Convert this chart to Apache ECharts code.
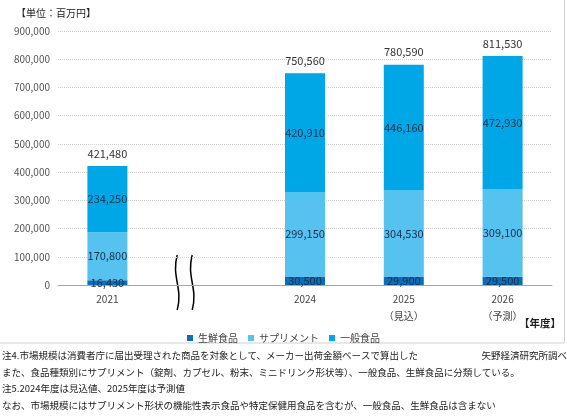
<!DOCTYPE html>
<html>
<head>
<meta charset="utf-8">
<script src="https://cdn.jsdelivr.net/npm/echarts@6/dist/echarts.min.js"></script>
<style>
  html, body {margin: 0; padding: 0; background: #fff;}
  #chart {width: 567px; height: 418px;}
</style>
</head>
<body>
<div id="chart"></div>
<script>
// 年度（2022-2023 は省略、空のカテゴリで波線を置く）
const categories = ['2021', '', '2024', '2025\n（見込）', '2026\n（予測）'];
const seriesNames = ['生鮮食品', 'サプリメント', '一般食品'];
const fresh = [16430, '-', 30500, 29900, 29500];
const supplement = [170800, '-', 299150, 304530, 309100];
const general = [234250, '-', 420910, 446160, 472930];
const totals = [421480, '-', 750560, 780590, 811530];
const colors = ['#0a6fb8', '#55c2f0', '#00a7e6'];

const notes = [
    '注4.市場規模は消費者庁に届出受理された商品を対象として、メーカー出荷金額ベースで算出した',
    'また、食品種類別にサプリメント（錠剤、カプセル、粉末、ミニドリンク形状等）、一般食品、生鮮食品に分類している。',
    '注5.2024年度は見込値、2025年度は予測値',
    'なお、市場規模にはサプリメント形状の機能性表示食品や特定保健用食品を含むが、一般食品、生鮮食品は含まない'
];

const font = '"Noto Sans CJK JP", "Noto Sans", sans-serif';
const chart = echarts.init(document.getElementById('chart'));

const fmt = v => Number(v).toLocaleString('en-US');

const segLabel = {
    show: true,
    position: 'inside',
    color: '#1b2f4a',
    fontSize: 11,
    fontFamily: font,
    formatter: p => fmt(p.value)
};

const dataSeries = [fresh, supplement, general].map((d, i) => ({
    name: seriesNames[i],
    type: 'bar',
    stack: 'total',
    barWidth: 40,
    data: d,
    itemStyle: {color: colors[i]},
    label: segLabel
}));

// 合計ラベル（透明な棒で上に表示）
dataSeries.push({
    name: 'total',
    type: 'bar',
    barWidth: 40,
    barGap: '-100%',
    data: totals,
    itemStyle: {color: 'transparent'},
    silent: true,
    z: 1,
    label: {
        show: true,
        position: 'top',
        distance: 7,
        color: '#333',
        fontSize: 11,
        fontFamily: font,
        formatter: p => fmt(p.value)
    }
});

const noteTexts = notes.map((t, i) => ({
    type: 'text',
    left: 2,
    top: 351 + i * 16.5,
    style: {text: t, fontSize: 9.5, fill: '#222', fontFamily: font}
}));

const option = {
    animation: false,
    textStyle: {fontFamily: font},
    grid: {left: 58, right: 15, top: 31, bottom: 133},
    legend: {
        data: seriesNames,
        top: 328,
        left: 'center',
        itemWidth: 6,
        itemHeight: 6,
        itemGap: 10,
        icon: 'rect',
        textStyle: {fontSize: 10, color: '#444', fontFamily: font}
    },
    xAxis: {
        type: 'category',
        data: categories,
        axisTick: {show: false},
        axisLine: {lineStyle: {color: '#a6a6a6'}},
        axisLabel: {color: '#444', fontSize: 10, lineHeight: 17, margin: 6, fontFamily: font}
    },
    yAxis: {
        type: 'value',
        min: 0,
        max: 900000,
        interval: 100000,
        axisLine: {show: false},
        axisTick: {show: false},
        splitLine: {lineStyle: {color: '#d0d0d0', type: 'dotted'}},
        axisLabel: {color: '#555', fontSize: 10, margin: 8, fontFamily: font, formatter: v => fmt(v)}
    },
    series: dataSeries,
    graphic: [
        {
            type: 'rect',
            shape: {x: -2, y: -2, width: 566.5, height: 345},
            style: {fill: 'none', stroke: '#cfcfcf', lineWidth: 1}
        },
        {
            type: 'text', left: 16, top: 8,
            style: {text: '【単位：百万円】', fontSize: 10, fill: '#222', fontFamily: font}
        },
        {
            type: 'text', right: 6, top: 318,
            style: {text: '【年度】', fontSize: 10.5, fontWeight: 'bold', fill: '#222', fontFamily: font}
        },
        {
            type: 'text', right: 0, top: 351,
            style: {text: '矢野経済研究所調べ', fontSize: 9.5, fill: '#222', fontFamily: font}
        }
    ].concat(noteTexts)
};

chart.setOption(option);

// 省略を示す波線（空カテゴリの位置から求める）
const gapX = chart.convertToPixel({xAxisIndex: 0}, 1);
const baseY = chart.convertToPixel({yAxisIndex: 0}, 0);
const wave = off => ({
    type: 'bezierCurve',
    shape: {
        x1: gapX + off, y1: baseY - 30,
        cpx1: gapX + off - 6, cpy1: baseY - 8,
        cpx2: gapX + off + 6, cpy2: baseY + 3,
        x2: gapX + off, y2: baseY + 25
    },
    style: {stroke: '#000', lineWidth: 1.5, fill: 'none'}
});
chart.setOption({graphic: option.graphic.concat([wave(-29), wave(-14)])});
</script>
</body>
</html>
